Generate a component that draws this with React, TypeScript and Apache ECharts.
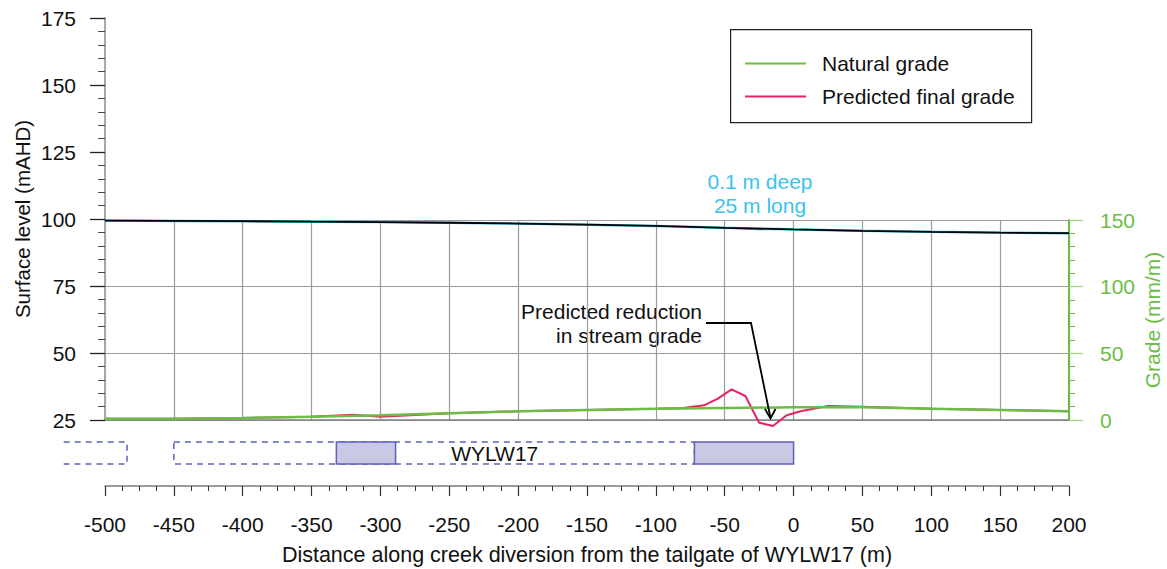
import React, { useEffect, useRef } from "react";
import * as echarts from "echarts";

const FONT = "'Liberation Sans', Arial, sans-serif";

// Surface level profile (mAHD)
const surfaceX = [-500, -450, -400, -350, -300, -250, -200, -150, -100, -50, 0, 50, 100, 150, 200];
const naturalSurface = [99.4, 99.3, 99.2, 99.0, 98.85, 98.6, 98.3, 97.9, 97.4, 96.7, 96.1, 95.6, 95.2, 94.9, 94.7];
const predictedSurfaceX = [-500, -450, -400, -350, -300, -250, -200, -150, -100, -50, -37.5, -25, -12.5, 0, 50, 100, 150, 200];
const predictedSurface = [99.4, 99.3, 99.2, 99.0, 98.85, 98.6, 98.3, 97.9, 97.4, 96.7, 96.55, 96.3, 96.25, 96.1, 95.6, 95.2, 94.9, 94.7];

// Stream grade (mm/m)
const naturalGradeX = [-500, -450, -400, -350, -300, -250, -200, -150, -100, -50, 0, 50, 100, 150, 200];
const naturalGrade = [1, 1, 1.5, 2.5, 3.5, 5, 6.5, 7.5, 8.5, 9, 9.5, 9.5, 8.5, 7.5, 6.5];
const predictedGradeX = [-500, -450, -400, -350, -320, -300, -250, -200, -150, -100, -80, -65, -55, -45, -35, -25, -15, -5, 5, 25, 50, 100, 150, 200];
const predictedGrade = [1, 1, 1.5, 2.5, 4, 2.5, 5, 6.5, 7.5, 8.5, 9, 11, 16, 23, 18, -2, -4.5, 3.5, 6.5, 10.5, 10, 8.5, 7.5, 6.5];

// Longwall panel blocks along the diversion: [start, end, kind] kind 0 = dashed (open left), 1 = dashed, 2 = filled
const panelStart = [-530, -450, -332, -72];
const panelEnd = [-484, -72, -289, 0];
const panelKind = [0, 1, 2, 2];
const panelLabel = "WYLW17";
const panelLabelX = -217;

// Axis ticks
const xTicks = { min: -500, max: 200, interval: 50 };
const levelTicks = { min: 25, max: 175, interval: 25 };
const gradeTicks = { min: 0, max: 150, interval: 50 };

const zip = (xs: number[], ys: number[]) => xs.map((x, i) => [x, ys[i]]);

export default function App() {
  const ref = useRef<HTMLDivElement>(null);

  useEffect(() => {
    if (!ref.current) return;
    const chart = echarts.init(ref.current, undefined, { renderer: "svg" });
    const gridL = 105;
    const gridW = 964;
    const grey = "#9c9c9c";
    const green = "#6cbd45";
    const pink = "#e8245f";
    const cyan = "#3cc2ee";
    const panelBlue = "#5c63b6";

    const option: any = {
      animation: false,
      backgroundColor: "#ffffff",
      textStyle: { fontFamily: FONT },
      grid: [
        { left: gridL, top: 18, width: gridW, height: 402 },
        { left: gridL, top: 220, width: gridW, height: 200 },
        { left: gridL, top: 442, width: gridW, height: 44 },
      ],
      xAxis: [
        { gridIndex: 0, type: "value", min: xTicks.min, max: xTicks.max, interval: xTicks.interval, show: false },
        {
          gridIndex: 1, type: "value", min: xTicks.min, max: xTicks.max, interval: xTicks.interval,
          axisLine: { show: true, onZero: false, lineStyle: { color: "#808080", width: 1.5 } },
          axisTick: { show: false }, axisLabel: { show: false },
          splitLine: { show: true, lineStyle: { color: grey, width: 1.2 } },
        },
        {
          gridIndex: 2, type: "value", min: xTicks.min, max: xTicks.max, interval: xTicks.interval,
          axisLine: { show: true, onZero: false, lineStyle: { color: "#7a7a7a", width: 1.5 } },
          axisTick: { show: true, length: 10, lineStyle: { color: "#333", width: 1.2 } },
          minorTick: { show: true, splitNumber: 4, length: 5, lineStyle: { color: "#333", width: 1 } },
          axisLabel: { fontSize: 21, color: "#111", margin: 28, fontFamily: FONT },
          splitLine: { show: false },
        },
      ],
      yAxis: [
        {
          gridIndex: 0, type: "value", min: levelTicks.min, max: levelTicks.max, interval: levelTicks.interval,
          axisLine: { show: true, onZero: false, lineStyle: { color: "#a8a8a8", width: 2 } },
          axisTick: { show: true, length: 15, lineStyle: { color: "#222", width: 1.3 } },
          minorTick: { show: true, splitNumber: 5, length: 7, lineStyle: { color: "#444", width: 1 } },
          axisLabel: { fontSize: 21, color: "#111", margin: 29, fontFamily: FONT },
          splitLine: { show: false },
        },
        {
          gridIndex: 1, type: "value", position: "right", min: gradeTicks.min, max: gradeTicks.max, interval: gradeTicks.interval,
          axisLine: { show: true, onZero: false, lineStyle: { color: green, width: 2 } },
          axisTick: { show: true, length: 14, lineStyle: { color: "#9fd486", width: 1.3 } },
          minorTick: { show: true, splitNumber: 5, length: 6, lineStyle: { color: green, width: 1 } },
          axisLabel: { fontSize: 21, color: green, margin: 31, fontFamily: FONT },
          splitLine: { show: true, lineStyle: { color: grey, width: 1.2 } },
        },
        { gridIndex: 2, type: "value", min: 0, max: 1, show: false },
      ],
      legend: {
        data: ["Natural grade", "Predicted final grade"],
        orient: "vertical",
        left: 740,
        top: 48,
        icon: "rect",
        itemWidth: 61,
        itemHeight: 2,
        itemGap: 12,
        textStyle: { fontSize: 21, color: "#111", fontFamily: FONT, padding: [0, 0, 0, 11] },
      },
      series: [
        {
          name: "Predicted surface", type: "line", xAxisIndex: 0, yAxisIndex: 0,
          data: zip(predictedSurfaceX, predictedSurface), symbol: "none",
          lineStyle: { color: cyan, width: 2.5 }, z: 3,
        },
        {
          name: "Natural surface", type: "line", xAxisIndex: 0, yAxisIndex: 0,
          data: zip(surfaceX, naturalSurface), symbol: "none",
          lineStyle: { color: "#000", width: 1.8 }, z: 4,
        },
        {
          name: "Predicted final grade", type: "line", xAxisIndex: 1, yAxisIndex: 1, clip: false,
          data: zip(predictedGradeX, predictedGrade), symbol: "none",
          lineStyle: { color: pink, width: 2 }, itemStyle: { color: pink }, z: 3,
        },
        {
          name: "Natural grade", type: "line", xAxisIndex: 1, yAxisIndex: 1, clip: false,
          data: zip(naturalGradeX, naturalGrade), symbol: "none",
          lineStyle: { color: green, width: 2.5 }, itemStyle: { color: green }, z: 4,
        },
        {
          name: "Panels", type: "custom", xAxisIndex: 2, yAxisIndex: 2, clip: false,
          data: panelStart.map((s, i) => [s, panelEnd[i], panelKind[i]]),
          renderItem: (params: any, api: any) => {
            const x0 = api.value(0), x1 = api.value(1), kind = api.value(2);
            const a = api.coord([x0, 1]);
            const b = api.coord([x1, 0.5]);
            if (kind === 0) {
              return {
                type: "polyline",
                shape: { points: [[a[0], a[1]], [b[0], a[1]], [b[0], b[1]], [a[0], b[1]]] },
                style: { fill: null, stroke: panelBlue, lineWidth: 1.5, lineDash: [6, 5] },
              };
            }
            return {
              type: "rect",
              shape: { x: a[0], y: a[1], width: b[0] - a[0], height: b[1] - a[1] },
              style: kind === 1
                ? { fill: null, stroke: panelBlue, lineWidth: 1.5, lineDash: [6, 5] }
                : { fill: "#c9c8e5", stroke: panelBlue, lineWidth: 1.5 },
              z2: kind === 2 ? 10 : 1,
            };
          },
        },
        {
          name: "Panel label", type: "custom", xAxisIndex: 2, yAxisIndex: 2, clip: false,
          data: [[panelLabelX, 0.75]],
          renderItem: (params: any, api: any) => {
            const p = api.coord([api.value(0), api.value(1)]);
            return {
              type: "text", x: p[0], y: p[1], z2: 20,
              style: { text: panelLabel, fontSize: 21, fontFamily: FONT, fill: "#111", align: "center", verticalAlign: "middle" },
            };
          },
        },
      ],
      graphic: [
        {
          type: "rect", left: 730, top: 29, z: 0,
          shape: { width: 301, height: 93 },
          style: { fill: "#fff", stroke: "#222", lineWidth: 1.2 },
        },
        {
          type: "text", x: 22, y: 219, rotation: Math.PI / 2,
          style: { text: "Surface level (mAHD)", fontSize: 20.5, fontFamily: FONT, fill: "#111", align: "center", verticalAlign: "middle" },
        },
        {
          type: "text", x: 1152, y: 320, rotation: Math.PI / 2,
          style: { text: "Grade (mm/m)", fontSize: 21, fontFamily: FONT, fill: green, align: "center", verticalAlign: "middle" },
        },
        {
          type: "text", x: 587, y: 555,
          style: { text: "Distance along creek diversion from the tailgate of WYLW17 (m)", fontSize: 21.5, fontFamily: FONT, fill: "#111", align: "center", verticalAlign: "middle" },
        },
        {
          type: "text", x: 760, y: 181,
          style: { text: "0.1 m deep", fontSize: 21, fontFamily: FONT, fill: cyan, align: "center", verticalAlign: "middle" },
        },
        {
          type: "text", x: 760, y: 205,
          style: { text: "25 m long", fontSize: 21, fontFamily: FONT, fill: cyan, align: "center", verticalAlign: "middle" },
        },
        {
          type: "text", x: 702, y: 311,
          style: { text: "Predicted reduction", fontSize: 21, fontFamily: FONT, fill: "#111", align: "right", verticalAlign: "middle" },
        },
        {
          type: "text", x: 702, y: 335,
          style: { text: "in stream grade", fontSize: 21, fontFamily: FONT, fill: "#111", align: "right", verticalAlign: "middle" },
        },
        {
          type: "polyline", z: 50,
          shape: { points: [[706, 323], [751, 323], [770.5, 418]] },
          style: { fill: null, stroke: "#000", lineWidth: 1.8 },
        },
        {
          type: "polyline", z: 50,
          shape: { points: [[765, 409], [770.5, 418.5], [775.5, 409]] },
          style: { fill: null, stroke: "#000", lineWidth: 1.8 },
        },
      ],
    };
    chart.setOption(option);
    return () => chart.dispose();
  }, []);

  return (
    <div
      ref={ref}
      style={{ position: "fixed", left: 0, top: 0, width: 1167, height: 569, background: "#fff" }}
    />
  );
}
